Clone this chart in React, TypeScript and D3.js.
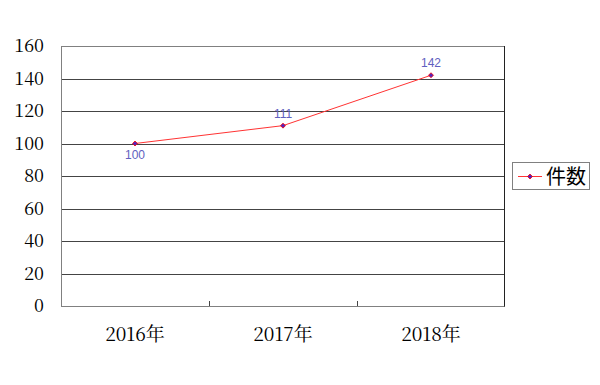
import React from "react";
import * as d3 from "d3";

const categories = ["2016年", "2017年", "2018年"];
const values = [100, 111, 142];
const yTicks = [0, 20, 40, 60, 80, 100, 120, 140, 160];
const seriesName = "件数";
const labelPos = ["below", "above", "above"];

export default function App() {
  const W = 600, H = 385;
  const left = 61, right = 505, top = 46, bottom = 306;
  const x = d3.scaleBand<string>().domain(categories).range([left, right]).padding(0);
  const y = d3.scaleLinear().domain([0, 160]).range([bottom, top]);
  const cx = (c: string) => (x(c) as number) + x.bandwidth() / 2;
  const line = d3.line<number>().x((_, i) => cx(categories[i])).y((d) => y(d));
  const serif = "'Noto Serif CJK JP'";
  const sans = "'Liberation Sans'";
  const diamond = (px: number, py: number, s: number) =>
    `M${px},${py - s}L${px + s},${py}L${px},${py + s}L${px - s},${py}Z`;
  return (
    <svg width={W} height={H} style={{ position: "absolute", left: 0, top: 0, background: "#fff" }}>
      {yTicks.map((t) => (
        <line key={"g" + t} x1={left} x2={right} y1={Math.round(y(t)) + 0.5} y2={Math.round(y(t)) + 0.5}
          stroke={t === 0 || t === 160 ? "#808080" : "#444"} strokeWidth={1} />
      ))}
      <line x1={left + 0.5} x2={left + 0.5} y1={top} y2={bottom + 0.5} stroke="#808080" />
      <line x1={right - 0.5} x2={right - 0.5} y1={top} y2={bottom + 0.5} stroke="#222" />
      {categories.slice(1).map((c) => (
        <line key={"t" + c} x1={Math.round(x(c) as number) + 0.5} x2={Math.round(x(c) as number) + 0.5}
          y1={bottom} y2={bottom - 5} stroke="#444" />
      ))}
      {yTicks.map((t) => (
        <text key={"yl" + t} x={44} y={y(t)} dy="0.36em" textAnchor="end" fontFamily={serif} fontSize={18} fill="#000">
          {t}
        </text>
      ))}
      {categories.map((c) => (
        <text key={"xl" + c} x={cx(c)} y={341} textAnchor="middle" fontFamily={serif} fontSize={19} fill="#000">
          {c}
        </text>
      ))}
      <path d={line(values) || ""} fill="none" stroke="#ff3333" strokeWidth={1} />
      {values.map((v, i) => (
        <path key={"m" + i} d={diamond(cx(categories[i]), y(v), 2.5)} fill="#5522bb" stroke="#ff0000" strokeWidth={0.8} />
      ))}
      {values.map((v, i) => (
        <text key={"dl" + i} x={cx(categories[i])} y={labelPos[i] === "below" ? y(v) + 15 : y(v) - 8}
          textAnchor="middle" fontFamily={sans} fontSize={12} fill="#6060c0">
          {v}
        </text>
      ))}
      <rect x={512.5} y={162.5} width={77} height={27} fill="#fff" stroke="#808080" />
      <line x1={518} x2={542} y1={176.5} y2={176.5} stroke="#ff3333" />
      <path d={diamond(530, 176.5, 2.5)} fill="#5522bb" stroke="#ff0000" strokeWidth={0.8} />
      <text x={546} y={177} dy="0.36em" fontFamily="'Noto Sans CJK JP'" fontSize={20} fill="#000">
        {seriesName}
      </text>
    </svg>
  );
}
